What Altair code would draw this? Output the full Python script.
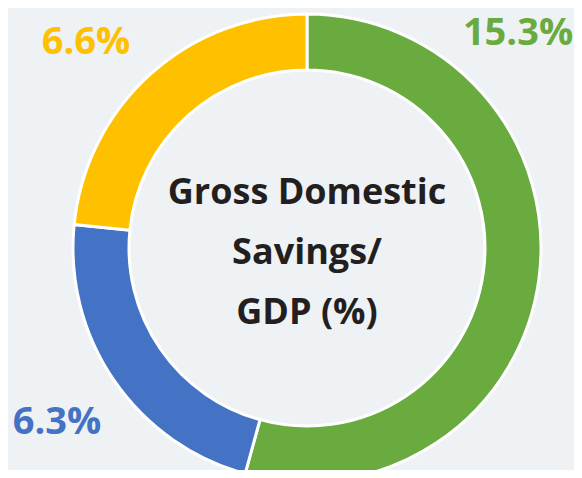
import altair as alt
import pandas as pd

# Data
categories = ["Green", "Blue", "Yellow"]
values = [15.3, 6.3, 6.6]
value_labels = ["15.3%", "6.3%", "6.6%"]
slice_colors = ["#6aab40", "#4472c4", "#ffc000"]
label_colors = ["#6aab40", "#4472c4", "#d9a32e"]
center_lines = ["Gross Domestic", "Savings/", "GDP (%)"]

df = pd.DataFrame({
    "cat": categories,
    "value": values,
    "label": value_labels,
    "idx": list(range(len(categories))),
})

CX, CY = 299, 240
FONT = "Open Sans"

arcs = alt.Chart(df).mark_arc(
    innerRadius=178, outerRadius=234, stroke="white", strokeWidth=3
).encode(
    theta=alt.Theta("value:Q", stack=True),
    order=alt.Order("idx:Q"),
    color=alt.Color("cat:N", scale=alt.Scale(domain=categories, range=slice_colors), legend=None),
    x=alt.value(CX), y=alt.value(CY),
)

label_color = alt.Color("cat:N", scale=alt.Scale(domain=categories, range=label_colors), legend=None)

# annotation anchor points for the three value labels (layout only)
label_pos = {"Green": (510, 26), "Blue": (49, 415), "Yellow": (78, 35)}

def label_layer(cat):
    px, py = label_pos[cat]
    return alt.Chart(df).mark_text(
        fontSize=38, fontWeight="bold", font=FONT, align="center", baseline="middle"
    ).encode(
        text="label:N", color=label_color, x=alt.value(px), y=alt.value(py)
    ).transform_filter(alt.datum.cat == cat)

labels = [label_layer(c) for c in categories]

center = alt.Chart(pd.DataFrame({"t": [0]})).mark_text(
    fontSize=36, fontWeight="bold", font=FONT, lineHeight=60,
    baseline="middle", align="center", color="#231f20",
).encode(
    text=alt.value(center_lines), x=alt.value(CX), y=alt.value(185)
)

chart = alt.layer(arcs, *labels, center).properties(
    width=566, height=462, padding=0, autosize=alt.AutoSizeParams(type="none"),
    background="#eff2f4",
).configure_view(strokeWidth=0)

chart.save("out.html", embed_options={"renderer": "svg", "actions": False})
